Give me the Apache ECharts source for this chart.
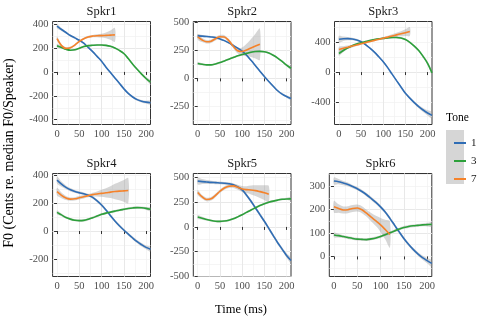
<!DOCTYPE html>
<html><head><meta charset="utf-8">
<script src="https://cdn.jsdelivr.net/npm/echarts@6/dist/echarts.min.js"></script>
<style>html,body{margin:0;padding:0;background:#fff}#c{width:479px;height:320px}</style>
</head><body><div id="c"></div>
<script>
// ---------- data ----------
const speakers = ['Spkr1','Spkr2','Spkr3','Spkr4','Spkr5','Spkr6'];
const tones = ['1','3','7'];
const time = [0,10,20,30,40,50,60,70,80,90,100,110,120,130,140,150,160,170,180,190,200,210];
const xTicks = [0,50,100,150,200];

// Spkr1
const s1_t1 = [383,355,330,305,285,265,240,205,170,130,90,40,-5,-50,-95,-140,-180,-210,-232,-245,-253,-258];
const s1_t1_se = [18,12,9,8,8,8,8,8,8,8,8,8,8,8,8,8,8,8,9,10,12,16];
const s1_t3 = [218,205,190,182,185,198,212,220,223,225,225,222,214,200,180,154,112,65,22,-18,-55,-86];
const s1_t3_se = [15,10,8,7,7,7,7,7,7,7,7,7,7,7,7,7,7,8,9,10,12,18];
const s1_t7_time = [0,10,20,30,40,50,60,70,80,90,100,110,120,130];
const s1_t7 = [278,220,197,203,225,255,278,293,300,303,304,306,308,310];
const s1_t7_se = [18,12,10,9,9,9,9,9,10,12,16,24,38,58];
// Spkr2
const s2_t1 = [377,375,372,368,362,350,335,315,292,268,242,205,160,112,63,17,-28,-70,-110,-140,-162,-180];
const s2_t1_se = [15,10,8,8,8,8,8,8,8,8,8,8,8,8,8,8,8,8,8,9,10,14];
const s2_t3 = [132,125,120,120,128,140,155,170,185,200,212,222,232,238,240,236,225,205,180,150,118,90];
const s2_t3_se = [12,9,8,8,8,8,8,8,8,8,8,8,8,8,8,8,8,8,8,9,10,14];
const s2_t7_time = [0,10,20,30,40,50,60,70,80,90,100,110,120,130,140];
const s2_t7 = [368,340,325,330,352,370,368,335,285,245,238,252,270,287,303];
const s2_t7_se = [25,18,15,15,15,15,15,15,18,25,35,55,80,110,140];
// Spkr3
const s3_t1 = [442,448,450,445,432,407,370,322,268,205,139,60,-28,-115,-200,-286,-350,-410,-465,-510,-550,-582];
const s3_t1_se = [45,30,22,18,15,13,12,12,12,12,12,12,12,12,12,13,15,18,22,28,35,45];
const s3_t3 = [250,290,325,355,378,395,410,425,437,447,453,460,465,465,458,438,400,350,290,210,118,-10];
const s3_t3_se = [30,20,15,13,12,12,12,12,12,12,12,12,12,12,12,12,12,13,15,18,24,32];
const s3_t7_time = [0,10,20,30,40,50,60,70,80,90,100,110,120,130,140,150,160];
const s3_t7 = [304,320,335,350,365,380,396,411,426,441,456,470,485,500,515,530,545];
const s3_t7_se = [35,28,22,18,15,13,12,12,12,13,15,18,22,28,35,45,60];
// Spkr4
const s4_t1 = [364,335,312,295,283,274,266,256,240,215,186,150,110,72,38,7,-22,-50,-76,-98,-117,-130];
const s4_t1_se = [25,18,14,12,10,10,10,10,10,10,10,10,10,10,10,10,10,10,11,12,14,18];
const s4_t3 = [133,115,97,85,77,74,76,84,95,107,119,128,135,142,149,155,161,165,167,166,162,155];
const s4_t3_se = [14,10,8,8,8,8,8,8,8,8,8,8,8,8,8,8,8,8,8,9,10,14];
const s4_t7_time = [0,10,20,30,40,50,60,70,80,90,100,110,120,130,140,150,160];
const s4_t7 = [281,255,236,228,230,238,245,253,260,265,269,273,278,282,285,287,289];
const s4_t7_se = [28,20,15,12,12,12,12,12,14,18,25,33,42,55,65,78,90];
// Spkr5
const s5_t1 = [465,460,456,452,449,446,443,438,428,406,376,322,260,192,125,57,-15,-88,-160,-225,-290,-340];
const s5_t1_se = [35,25,20,17,15,14,14,14,14,15,16,17,18,18,18,18,18,18,18,20,22,28];
const s5_t3 = [100,88,75,65,58,56,60,68,82,102,124,148,172,195,217,235,250,262,272,280,284,285];
const s5_t3_se = [20,14,11,10,10,10,10,10,10,10,10,10,10,10,10,10,10,10,10,10,12,16];
const s5_t7_time = [0,10,20,30,40,50,60,70,80,90,100,110,120,130,140,150,160];
const s5_t7 = [350,305,278,285,320,362,395,412,416,402,385,378,375,368,358,347,332];
const s5_t7_se = [25,18,18,18,18,18,18,18,20,25,30,35,45,55,65,75,85];
// Spkr6
const s6_t1 = [323,320,314,308,299,290,278,264,248,231,212,190,163,134,105,77,52,30,11,-5,-18,-30];
const s6_t1_se = [15,11,9,8,7,7,7,7,7,7,7,7,7,7,7,7,7,7,8,9,11,14];
const s6_t3 = [92,89,85,81,77,74,73,72,75,79,85,93,101,109,117,124,128,131,133,135,136,137];
const s6_t3_se = [10,8,6,6,6,6,6,6,6,6,6,6,6,6,6,6,6,6,6,6,8,10];
const s6_t7_time = [0,10,20,30,40,50,60,70,80,90,100,110,120];
const s6_t7 = [213,205,199,200,205,207,200,185,168,152,135,115,94];
const s6_t7_se = [25,18,15,15,15,15,15,15,18,22,30,42,57];

// y-axis ranges and tick labels per panel
const yMin = [-440,-410,-705,-325,-503,-86];
const yMax = [422,505,680,411,542,355];
const yStep = [200,250,400,200,250,100];
const yTicks = [[-400,-200,0,200,400],[-250,0,250,500],[-400,0,400],[-200,0,200,400],[-500,-250,0,250,500],[0,100,200,300]];

const curves = [
  [[time,s1_t1,s1_t1_se],[time,s1_t3,s1_t3_se],[s1_t7_time,s1_t7,s1_t7_se]],
  [[time,s2_t1,s2_t1_se],[time,s2_t3,s2_t3_se],[s2_t7_time,s2_t7,s2_t7_se]],
  [[time,s3_t1,s3_t1_se],[time,s3_t3,s3_t3_se],[s3_t7_time,s3_t7,s3_t7_se]],
  [[time,s4_t1,s4_t1_se],[time,s4_t3,s4_t3_se],[s4_t7_time,s4_t7,s4_t7_se]],
  [[time,s5_t1,s5_t1_se],[time,s5_t3,s5_t3_se],[s5_t7_time,s5_t7,s5_t7_se]],
  [[time,s6_t1,s6_t1_se],[time,s6_t3,s6_t3_se],[s6_t7_time,s6_t7,s6_t7_se]]
];

// ---------- layout / style ----------
const FONT = '"Liberation Serif","Times New Roman",serif';
const toneColor = {'1':'#2f6db5','3':'#2ca03a','7':'#f5822a'};
const bandFill = 'rgba(153,153,153,0.4)';
const panels = [
  [52.6,21.5,97.9,103],[193.3,21.5,97.7,103],[334.5,21.5,97.5,103],
  [52.6,173.5,97.9,103],[193.3,173.5,97.7,103],[329.3,173.5,102.5,103]
];
const xMin = -10, xMax = 210;

const grid = [], xAxis = [], yAxis = [], series = [], graphic = [];
panels.forEach((g,p) => {
  grid.push({left:g[0], top:g[1], width:g[2], height:g[3], show:true,
    borderColor:'#333', borderWidth:1, backgroundColor:'#fff'});
  xAxis.push({type:'value', gridIndex:p, min:xMin, max:xMax, minInterval:25, maxInterval:25,
    position:'top', axisLine:{show:false}, axisTick:{show:false}, axisLabel:{show:false},
    splitLine:{show:true, showMinLine:false, showMaxLine:false, lineStyle:{color:'#f0f0f0', width:0.7}}});
  xAxis.push({type:'value', gridIndex:p, min:xMin, max:xMax, minInterval:50, maxInterval:50,
    position:'bottom', axisLine:{show:false},
    axisTick:{show:true, length:3, customValues:xTicks, lineStyle:{color:'#333'}},
    axisLabel:{customValues:xTicks, fontSize:10.5, color:'#4d4d4d', fontFamily:FONT, margin:4},
    splitLine:{show:true, showMinLine:false, showMaxLine:false, lineStyle:{color:'#e8e8e8', width:1}}});
  yAxis.push({type:'value', gridIndex:p, min:yMin[p], max:yMax[p], minInterval:yStep[p]/2, maxInterval:yStep[p]/2,
    position:'right', axisLine:{show:false}, axisTick:{show:false}, axisLabel:{show:false},
    splitLine:{show:true, showMinLine:false, showMaxLine:false, lineStyle:{color:'#f0f0f0', width:0.7}}});
  yAxis.push({type:'value', gridIndex:p, min:yMin[p], max:yMax[p], minInterval:yStep[p], maxInterval:yStep[p],
    position:'left', axisLine:{show:false},
    axisTick:{show:true, length:3, customValues:yTicks[p], lineStyle:{color:'#333'}},
    axisLabel:{customValues:yTicks[p], fontSize:10.5, color:'#4d4d4d', fontFamily:FONT, margin:4},
    splitLine:{show:true, showMinLine:false, showMaxLine:false, lineStyle:{color:'#e8e8e8', width:1}}});

  curves[p].forEach((c,k) => {
    const [tt, v, se] = c;
    const tone = tones[k];
    // confidence ribbon
    series.push({type:'custom', name:'band', xAxisIndex:2*p+1, yAxisIndex:2*p+1, silent:true, clip:true,
      data: tt.map((x,i)=>[x, v[i]-se[i], v[i]+se[i]]),
      encode:{x:0, y:[1,2]},
      renderItem:(params, api) => {
        if (params.dataIndex !== 0) return null;
        const up = [], lo = [];
        for (let i = 0; i < tt.length; i++) {
          up.push(api.coord([tt[i], v[i]+se[i]]));
          lo.push(api.coord([tt[i], v[i]-se[i]]));
        }
        return {type:'polygon', shape:{points: up.concat(lo.reverse()), smooth:0.3},
          style:{fill:bandFill}};
      }});
    // smooth line
    series.push({type:'line', name:tone, xAxisIndex:2*p+1, yAxisIndex:2*p+1, symbol:'none', smooth:0.35,
      silent:true, data: tt.map((x,i)=>[x, v[i]]),
      lineStyle:{color:toneColor[tone], width:1.6}, itemStyle:{color:toneColor[tone]}});
  });

  graphic.push({type:'text', x:g[0]+g[2]/2, y:g[1]-10, z:10,
    style:{text:speakers[p], align:'center', verticalAlign:'middle', fontFamily:FONT, fontSize:12.5, fill:'#1a1a1a'}});
});

graphic.push({type:'text', x:241, y:310, z:10,
  style:{text:'Time (ms)', align:'center', verticalAlign:'middle', fontFamily:FONT, fontSize:12.5, fill:'#000'}});
graphic.push({type:'text', x:9, y:153, rotation:Math.PI/2, z:10,
  style:{text:'F0 (Cents re. median F0/Speaker)', align:'center', verticalAlign:'middle', fontFamily:FONT, fontSize:14, fill:'#000'}});
graphic.push({type:'text', x:446, y:118, z:10,
  style:{text:'Tone', align:'left', verticalAlign:'middle', fontFamily:FONT, fontSize:11.5, fill:'#000'}});
graphic.push({type:'rect', z:1, shape:{x:446, y:130, width:18, height:54}, style:{fill:'#d6d6d6'}});

const chart = echarts.init(document.getElementById('c'), null, {renderer:'canvas'});
chart.setOption({
  animation:false,
  backgroundColor:'#fff',
  grid, xAxis, yAxis, series, graphic,
  legend:{data:tones, orient:'vertical', left:449, top:131, itemWidth:12, itemHeight:2, itemGap:4,
    icon:'rect', selectedMode:false, z:20,
    textStyle:{fontFamily:FONT, fontSize:11, color:'#1a1a1a', lineHeight:14}}
});
</script></body></html>
